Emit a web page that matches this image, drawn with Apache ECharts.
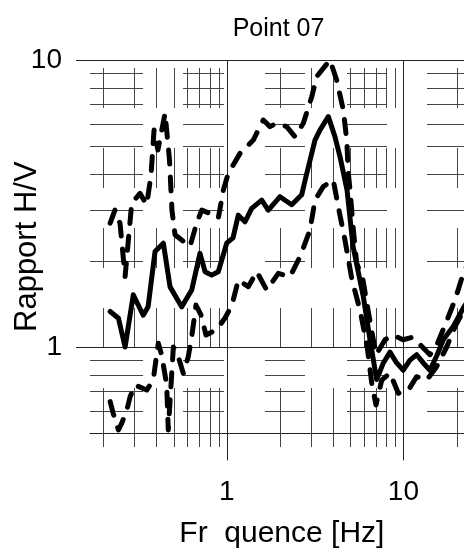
<!DOCTYPE html>
<html>
<head>
<meta charset="utf-8">
<script src="https://cdn.jsdelivr.net/npm/echarts@6/dist/echarts.min.js"></script>
<style>
html,body{margin:0;padding:0;background:#fff;}
#chart{width:464px;height:549px;}
</style>
</head>
<body>
<div id="chart"></div>
<script>
// ---- data ----
const titleText = 'Point 07';
const xName = 'Fr  quence [Hz]';
const yName = 'Rapport H/V';
const xRange = [0.1684, 25];
const yRange = [0.5, 10];
const majorX = [1, 10];
const majorY = [1, 10];
const minorX = [0.2, 0.3, 0.4, 0.5, 0.6, 0.7, 0.8, 0.9, 2, 3, 4, 5, 6, 7, 8, 9, 20];
const minorY = [0.6, 0.7, 0.8, 0.9, 2, 3, 4, 5, 6, 7, 8, 9];

const meanFreq = [0.219,0.244,0.266,0.296,0.337,0.359,0.393,0.438,0.478,0.556,0.634,0.706,0.754,0.822,0.896,1.0,1.086,1.163,1.269,1.385,1.578,1.72,2.003,2.333,2.658,2.78,3.16,3.37,3.76,4.10,4.38,4.80,5.19,5.93,6.47,7.06,7.70,8.40,9.16,9.99,10.89,11.89,12.96,14.14,15.42,16.82,19.15,22.0,25];
const meanVal  = [1.33,1.26,1.00,1.52,1.29,1.38,2.15,2.30,1.62,1.38,1.58,2.12,1.83,1.78,1.83,2.30,2.40,2.88,2.73,3.04,3.25,3.00,3.34,3.13,3.39,3.82,5.26,5.70,6.35,5.40,4.60,3.52,2.24,1.50,1.06,0.77,0.88,0.96,0.88,0.83,0.90,0.94,0.88,0.83,0.93,1.06,1.18,1.38,1.55];

const upFreq = [0.219,0.233,0.249,0.266,0.290,0.323,0.3526,0.373,0.388,0.408,0.448,0.4746,0.490,0.510,0.556,0.620,0.676,0.722,0.804,0.896,0.957,1.021,1.19,1.414,1.611,1.758,1.918,2.186,2.435,2.714,3.03,3.23,3.84,4.19,4.57,4.78,4.88,4.99,5.21,5.44,5.91,6.30,7.0,7.87,8.74,9.95,11.19,12.42,14.14,15.5,17.65,19.6,22.0,25];
const upVal  = [2.70,3.00,2.70,1.76,3.17,3.43,3.13,3.97,5.70,4.86,6.52,4.48,3.00,2.46,2.36,2.24,2.70,3.00,2.92,2.81,3.52,4.03,4.73,5.26,6.18,5.86,6.02,5.86,5.40,6.02,7.45,8.75,10.0,8.52,6.70,5.26,4.03,3.52,2.56,1.96,1.71,1.35,0.94,1.06,1.10,1.06,1.08,1.02,0.94,1.02,1.24,1.46,1.83,2.12];

const lowFreq = [0.219,0.228,0.244,0.2545,0.272,0.284,0.303,0.3526,0.384,0.393,0.410,0.4286,0.4575,0.467,0.499,0.532,0.568,0.606,0.634,0.670,0.715,0.764,0.826,0.893,0.978,1.071,1.163,1.325,1.479,1.684,1.959,2.282,2.60,2.961,3.16,3.52,4.01,4.26,4.67,5.12,5.68,6.22,6.64,7.0,7.54,8.40,9.36,10.66,11.89,13.55,15.42,17.58,19.6,22.0,25];
const lowVal  = [0.645,0.587,0.514,0.542,0.603,0.671,0.737,0.708,0.767,0.854,1.03,0.938,0.737,0.514,1.0,0.925,0.81,0.925,1.086,1.40,1.293,1.101,1.128,1.165,1.262,1.40,1.712,1.622,1.83,1.58,1.806,1.758,2.064,2.557,3.25,3.62,3.82,3.125,2.36,1.712,1.345,1.016,0.737,0.628,0.767,0.812,0.69,0.708,0.788,0.767,0.854,1.0,1.177,1.345,1.5];

// ---- styling ----
const FONT = '"Liberation Sans", Arial, Helvetica, sans-serif';
const pairs = (xs, ys) => xs.map((x, i) => [x, ys[i]]);
const isDecade = v => Math.abs(Math.log10(v) - Math.round(Math.log10(v))) < 1e-6;

// grid lines data: [x, y, kind]  kind 0 = minor vertical, 1 = minor horizontal, 2 = major vertical, 3 = major horizontal
const gridData = []
  .concat(minorX.map(v => [v, 1, 0]))
  .concat(minorY.map(v => [1, v, 1]))
  .concat(majorX.map(v => [v, 1, 2]))
  .concat(majorY.map(v => [1, v, 3]));

const V_DASH = [0, 8, 40, 40, 40, 40, 40, 40, 40, 40, 59, 60];
const H_DASH = [53, 40, 41, 41, 40, 42, 40, 40, 40, 100];
const MINOR_TICK = 14, MAJOR_TICK_X = 27, MAJOR_TICK_Y = 14;

function renderGrid(params, api) {
  const cs = params.coordSys;
  const kind = api.value(2);
  const p = api.coord([api.value(0), api.value(1)]);
  const top = cs.y, bottom = cs.y + cs.height, left = cs.x, right = cs.x + cs.width;
  let shape, style;
  if (kind === 0 || kind === 2) {
    const x = Math.round(p[0]) + 0.5;
    const ext = kind === 0 ? MINOR_TICK : MAJOR_TICK_X;
    shape = {x1: x, y1: top, x2: x, y2: bottom + ext};
    style = {stroke: kind === 0 ? '#444' : '#222', lineWidth: 1, lineDash: kind === 0 ? V_DASH : null};
  } else {
    const y = Math.round(p[1]) + 0.5;
    const l = kind === 3 ? left - MAJOR_TICK_Y : left;
    shape = {x1: l, y1: y, x2: right, y2: y};
    style = {stroke: kind === 1 ? '#444' : '#222', lineWidth: 1, lineDash: kind === 1 ? H_DASH : null};
  }
  return {type: 'line', shape: shape, style: style, silent: true};
}

const chart = echarts.init(document.getElementById('chart'), null, {renderer: 'canvas'});
const lineBase = {type: 'line', showSymbol: false, symbol: 'none', smooth: false, z: 5, animation: false, clip: false};
const dashStyle = {color: '#000', width: 5, type: [14, 13], cap: 'round', join: 'round'};
chart.setOption({
  animation: false,
  backgroundColor: '#fff',
  title: {
    text: titleText, left: 273.5, top: 12, textAlign: 'center',
    textStyle: {fontFamily: FONT, fontWeight: 'normal', fontSize: 25, color: '#000'}
  },
  grid: {left: 90, top: 60, width: 383.7, height: 373.4, containLabel: false, outerBoundsMode: 'none'},
  xAxis: {
    type: 'log', logBase: 10, min: xRange[0], max: xRange[1],
    name: xName, nameLocation: 'middle', nameGap: 85,
    nameTextStyle: {fontFamily: FONT, fontSize: 30, color: '#000'},
    axisLine: {show: true, lineStyle: {color: '#222', width: 1}},
    axisTick: {show: false},
    splitLine: {show: false},
    axisLabel: {
      margin: 45, fontFamily: FONT, fontSize: 28, color: '#000',
      showMinLabel: false, showMaxLabel: false, hideOverlap: false,
      formatter: v => isDecade(v) ? String(Math.round(v)) : ''
    }
  },
  yAxis: {
    type: 'log', logBase: 10, min: yRange[0], max: yRange[1],
    name: yName, nameLocation: 'middle', nameGap: 47, nameMoveOverlap: false,
    nameTextStyle: {fontFamily: FONT, fontSize: 31, color: '#000'},
    axisLine: {show: false},
    axisTick: {show: false},
    splitLine: {show: false},
    axisLabel: {
      margin: 28, fontFamily: FONT, fontSize: 28, color: '#000',
      showMinLabel: false, hideOverlap: false,
      formatter: v => isDecade(v) ? String(Math.round(v)) : ''
    }
  },
  series: [
    {type: 'custom', renderItem: renderGrid, data: gridData, z: 1, silent: true, clip: false,
     encode: {x: 0, y: 1}, animation: false},
    Object.assign({}, lineBase, {name: 'upper', data: pairs(upFreq, upVal), lineStyle: dashStyle}),
    Object.assign({}, lineBase, {name: 'lower', data: pairs(lowFreq, lowVal), lineStyle: dashStyle}),
    Object.assign({}, lineBase, {name: 'mean', data: pairs(meanFreq, meanVal),
      lineStyle: {color: '#000', width: 5, cap: 'round', join: 'round'}})
  ]
});
</script>
</body>
</html>
